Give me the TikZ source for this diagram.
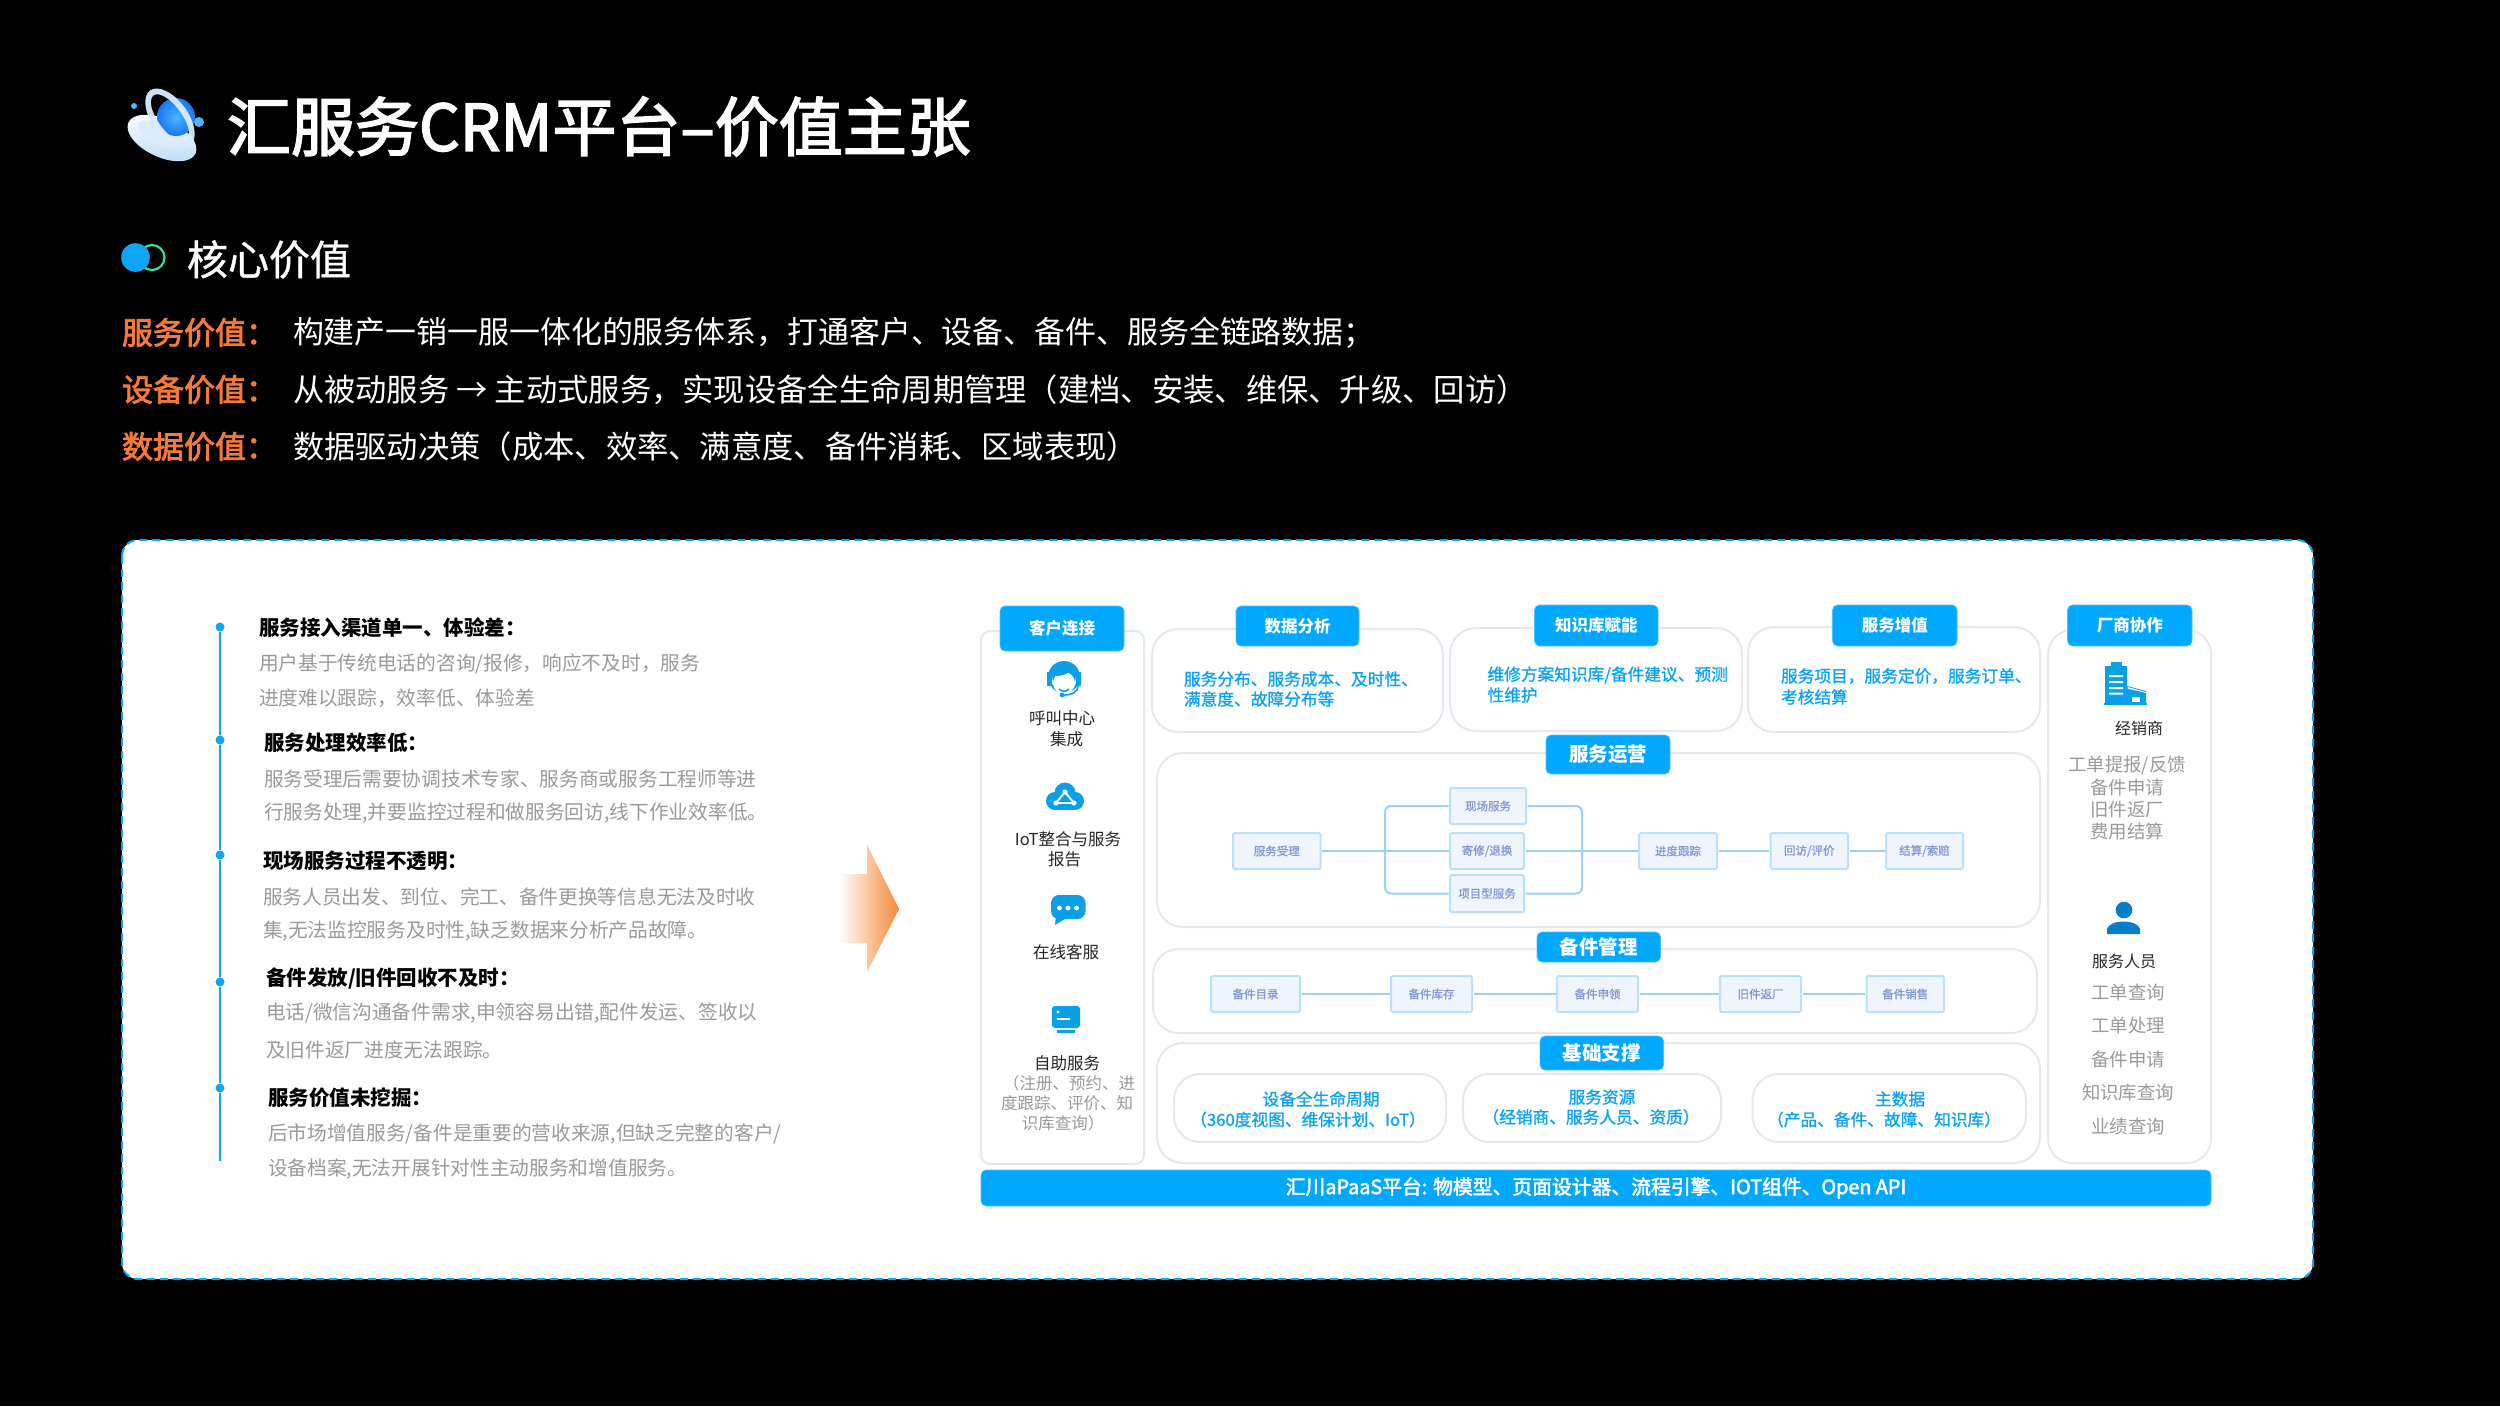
\documentclass[tikz,border=0pt]{standalone}
\usepackage{fontspec}
\setmainfont{Noto Sans CJK SC}
\newfontfamily\medf[FakeBold=2.6]{Noto Sans CJK SC}
\newfontfamily\lightmedf[FakeBold=1]{Noto Sans CJK SC}
\definecolor{tagblue}{HTML}{00A9FF}
\definecolor{iconblue}{HTML}{0AA0E6}
\definecolor{deepblue}{HTML}{0580C8}
\definecolor{panelline}{HTML}{E4E9F0}
\definecolor{cardline}{HTML}{0EA5F5}
\definecolor{paneltxt}{HTML}{0AA2F5}
\definecolor{graytxt}{HTML}{9A9A9A}
\definecolor{orangetxt}{HTML}{F5793A}
\definecolor{flowfill}{HTML}{F0F4FD}
\definecolor{flowline}{HTML}{BCDFFA}
\definecolor{flowtxt}{HTML}{8398D6}
\definecolor{linkline}{HTML}{98D2FA}
\definecolor{arroworange}{HTML}{F48A38}
\definecolor{ringgreen}{HTML}{34E0A1}
\definecolor{sphereinner}{HTML}{4DB4FF}
\definecolor{sphereouter}{HTML}{1677F0}
\definecolor{discpale}{HTML}{BFDCFB}
\definecolor{ringpale}{HTML}{DCEBFD}
\newcommand{\bx}[7]{%
  \pgfmathsetmacro{\bxw}{#5-#3}\pgfmathsetmacro{\bxh}{#6-#4}%
  \pgfmathsetmacro{\bxx}{(#5+#3)/2}\pgfmathsetmacro{\bxy}{(#6+#4)/2}%
  \node[#1,minimum width=\bxw pt,minimum height=\bxh pt] (#2) at (\bxx,\bxy) {#7};}
\tikzset{
  fs/.style={font=\fontsize{#1}{#1}\selectfont},
  fb/.style={font=\fontsize{#1}{#1}\selectfont\bfseries},
  fm/.style={font=\fontsize{#1}{#1}\selectfont\medf},
  fl/.style={font=\fontsize{#1}{#1}\selectfont\lightmedf},
  txt/.style={inner sep=0pt,outer sep=0pt,yshift=-1.5pt},
  panelbig/.style={draw=panelline,line width=2pt,fill=white,rounded corners=26pt,inner sep=0pt,outer sep=0pt},
  panelcol/.style={draw=panelline,line width=2pt,fill=white,rounded corners=9pt,inner sep=0pt,outer sep=0pt},
  panelcolr/.style={draw=panelline,line width=2pt,fill=white,rounded corners=24pt,inner sep=0pt,outer sep=0pt},
  tagbox/.style={fill=tagblue,draw=tagblue!70!white,line width=.6pt,rounded corners=5pt,inner sep=0pt,outer sep=0pt,text=white},
  flowbox/.style={fill=flowfill,draw=flowline,line width=2pt,rounded corners=1.5pt,inner sep=0pt,outer sep=1.5pt,text=flowtxt,fl=11.5},
  link/.style={draw=linkline,line width=2pt},
  head/.style={txt,anchor=west,fb=20.5,text=black},
  bodyt/.style={txt,anchor=west,fs=19.7,text=graytxt},
  ptxt/.style={inner sep=0pt,outer sep=0pt,anchor=west,fl=16.7,text=paneltxt},
  ptxc/.style={inner sep=0pt,outer sep=0pt,fl=16.7,text=paneltxt},
  ctxt/.style={txt,fs=16.5,text=black!85},
  gtxt/.style={txt,fs=16.5,text=graytxt},
  rtxt/.style={txt,fs=18.4,text=graytxt},
  ovt/.style={txt,anchor=west,fm=31,text=orangetxt},
  wvt/.style={txt,anchor=west,fs=31.3,text=white},
}
\begin{document}
\begin{tikzpicture}[x=1pt,y=-1pt]
\useasboundingbox (0,0) rectangle (2500,1406);
\fill[black] (0,0) rectangle (2500,1406);

% title icon
\shade[rotate around={-25:(162,138)},top color=white,bottom color=discpale] (162,138) ellipse [x radius=37,y radius=19];
\fill[ringpale,rotate around={-25:(160,134)}] (160,134) ellipse [x radius=24,y radius=10];
\shade[inner color=sphereinner,outer color=sphereouter] (176,117) circle [radius=19];
\fill[rotate around={-54:(170,118)},ringpale,even odd rule,opacity=.95] (170,118) ellipse [x radius=34,y radius=18] (170,118) ellipse [x radius=28,y radius=12];
\fill[sphereinner] (134,106) circle [radius=3];
\fill[sphereinner] (199,122) circle [radius=5];
\node[txt,anchor=west,fm=64,text=white] (title) at (227,125) {汇服务CRM平台–价值主张};

% core value
\draw[ringgreen,line width=2.2pt] (152,257.5) circle [radius=12.5];
\fill[cardline] (135.5,257.5) circle [radius=14.3];
\node[txt,anchor=west,fl=41,text=white] (core) at (187,258) {核心价值};
\node[ovt] (ov1) at (122,331) {服务价值：};
\node[wvt,fs=30.9] (wv1) at (293,331) {构建产一销一服一体化的服务体系，打通客户、设备、备件、服务全链路数据；};
\node[ovt] (ov2) at (122,388) {设备价值：};
\node[wvt] (wv2) at (293,388) {从被动服务 → 主动式服务，实现设备全生命周期管理（建档、安装、维保、升级、回访）};
\node[ovt] (ov3) at (122,445) {数据价值：};
\node[wvt] (wv3) at (293,445) {数据驱动决策（成本、效率、满意度、备件消耗、区域表现）};

% card
\fill[white,rounded corners=16pt] (122,540) rectangle (2313,1279);
\draw[cardline,line width=2pt,dash pattern=on 8pt off 5pt,rounded corners=16pt] (122,540) rectangle (2313,1279);

% timeline
\coordinate (tlend) at (220,1161);
\node[circle,fill=cardline,minimum size=9pt,inner sep=0pt] (d1) at (220,627) {};
\node[circle,fill=cardline,minimum size=9pt,inner sep=0pt] (d2) at (220,740) {};
\node[circle,fill=cardline,minimum size=9pt,inner sep=0pt] (d3) at (220,855) {};
\node[circle,fill=cardline,minimum size=9pt,inner sep=0pt] (d4) at (220,982) {};
\node[circle,fill=cardline,minimum size=9pt,inner sep=0pt] (d5) at (220,1088) {};
\draw[cardline,line width=2.6pt] (d1) -- (d2) -- (d3) -- (d4) -- (d5) -- (tlend);

\node[head] (h1) at (259,626.5) {服务接入渠道单一、体验差：};
\node[bodyt] (b1a) at (259,662) {用户基于传统电话的咨询/报修，响应不及时，服务};
\node[bodyt] (b1b) at (259,697) {进度难以跟踪，效率低、体验差};
\node[head] (h2) at (264,741) {服务处理效率低：};
\node[bodyt] (b2a) at (264,777) {服务受理后需要协调技术专家、服务商或服务工程师等进};
\node[bodyt] (b2b) at (264,812) {行服务处理,并要监控过程和做服务回访,线下作业效率低。};
\node[head] (h3) at (263,859) {现场服务过程不透明：};
\node[bodyt] (b3a) at (263,895) {服务人员出发、到位、完工、备件更换等信息无法及时收};
\node[bodyt] (b3b) at (263,930) {集,无法监控服务及时性,缺乏数据来分析产品故障。};
\node[head] (h4) at (266,977) {备件发放/旧件回收不及时：};
\node[bodyt] (b4a) at (266,1012) {电话/微信沟通备件需求,申领容易出错,配件发运、签收以};
\node[bodyt] (b4b) at (266,1048) {及旧件返厂进度无法跟踪。};
\node[head] (h5) at (268,1096) {服务价值未挖掘：};
\node[bodyt] (b5a) at (268,1132) {后市场增值服务/备件是重要的营收来源,但缺乏完整的客户/};
\node[bodyt] (b5b) at (268,1168) {设备档案,无法开展针对性主动服务和增值服务。};

% big arrow
\shade[left color=white,right color=arroworange] (839,874) -- (867,874) -- (867,845) -- (899,909) -- (867,972) -- (867,943) -- (839,943) -- cycle;

% panels
\bx{panelcol}{pcust}{981}{631}{1144}{1164}{}
\bx{panelbig}{pdata}{1152}{629}{1443}{732}{}
\bx{panelbig}{pknow}{1450}{628}{1742}{731}{}
\bx{panelbig}{pval}{1748}{627}{2040}{732}{}
\bx{panelcolr}{pvend}{2048}{630}{2211}{1163}{}
\bx{panelbig}{pops}{1157}{753}{2040}{927}{}
\bx{panelbig}{pspare}{1153}{949}{2037}{1033}{}
\bx{panelbig}{pbase}{1157}{1043}{2040}{1163}{}
\bx{panelbig}{pb1}{1174}{1074}{1446}{1142}{}
\bx{panelbig}{pb2}{1463}{1074}{1721}{1142}{}
\bx{panelbig}{pb3}{1752.5}{1074}{2026}{1142}{}

% tags
\bx{tagbox,fb=16.5}{t1}{1000}{606}{1124}{651}{客户连接}
\bx{tagbox,fb=16.5}{t2}{1236}{606}{1359}{646}{数据分析}
\bx{tagbox,fb=16.5}{t3}{1534.5}{605}{1658}{646}{知识库赋能}
\bx{tagbox,fb=16.5}{t4}{1832.5}{605}{1957}{646}{服务增值}
\bx{tagbox,fb=16.5}{t5}{2067.5}{605}{2192}{646}{厂商协作}
\bx{tagbox,fb=19.5}{t6}{1546}{735}{1670}{774}{服务运营}
\bx{tagbox,fb=19.5}{t7}{1537}{932}{1660.5}{962}{备件管理}
\bx{tagbox,fb=19.5}{t8}{1540}{1036}{1663.5}{1070}{基础支撑}
\bx{tagbox,fm=19.8}{bar}{981}{1170}{2211}{1206}{汇川aPaaS平台: 物模型、页面设计器、流程引擎、IOT组件、Open API}

% panel texts
\node[ptxt] (p1a) at (1184,679) {服务分布、服务成本、及时性、};
\node[ptxt] (p1b) at (1184,699) {满意度、故障分布等};
\node[ptxt] (p2a) at (1487.5,675) {维修方案知识库/备件建议、预测};
\node[ptxt] (p2b) at (1487.5,695) {性维护};
\node[ptxt] (p3a) at (1781,676) {服务项目，服务定价，服务订单、};
\node[ptxt] (p3b) at (1781,697) {考核结算};
\node[ptxc] (q1a) at (1321,1099) {设备全生命周期};
\node[ptxc] (q1b) at (1308,1119.5) {（360度视图、维保计划、IoT）};
\node[ptxc] (q2a) at (1602,1097) {服务资源};
\node[ptxc] (q2b) at (1591,1117) {（经销商、服务人员、资质）};
\node[ptxc] (q3a) at (1900,1099) {主数据};
\node[ptxc] (q3b) at (1884,1119.5) {（产品、备件、故障、知识库）};

% flow boxes
\bx{flowbox}{f1}{1233}{833}{1320.5}{869}{服务受理}
\bx{flowbox}{f2}{1450}{788}{1526}{824}{现场服务}
\bx{flowbox}{f3}{1450}{833}{1524}{869}{寄修/退换}
\bx{flowbox}{f4}{1450}{875}{1524}{912}{项目型服务}
\bx{flowbox}{f5}{1639}{833}{1717}{869}{进度跟踪}
\bx{flowbox}{f6}{1770.5}{833}{1848}{869}{回访/评价}
\bx{flowbox}{f7}{1886}{833}{1963}{869}{结算/索赔}
\coordinate (jl) at (1385,851);
\coordinate (jr) at (1582,851);
\draw[link] (f1.east) -- (jl) -- (f3.west);
\draw[link] (f3.east) -- (jr) -- (f5.west);
\draw[link] (f5.east) -- (f6.west);
\draw[link] (f6.east) -- (f7.west);
\draw[link,rounded corners=6pt] (f2.west) -| (jl) |- (f4.west);
\draw[link,rounded corners=6pt] (f2.east) -| (jr) |- (f4.east);

\bx{flowbox}{s1}{1211}{976}{1300}{1012}{备件目录}
\bx{flowbox}{s2}{1391}{976}{1472}{1012}{备件库存}
\bx{flowbox}{s3}{1557}{976}{1638}{1012}{备件申领}
\bx{flowbox}{s4}{1720}{976}{1801}{1012}{旧件返厂}
\bx{flowbox}{s5}{1866.5}{976}{1944}{1012}{备件销售}
\draw[link] (s1) -- (s2);
\draw[link] (s2) -- (s3);
\draw[link] (s3) -- (s4);
\draw[link] (s4) -- (s5);

% left column icons and text
\fill[iconblue] (1064,677) circle [radius=16];
\fill[white] (1064,683) circle [radius=11];
\fill[iconblue] (1056,676) .. controls (1062,676) and (1068,674) .. (1072,670) .. controls (1068,666) and (1058,666) .. (1056,676) -- cycle;
\draw[white,line width=2pt] (1051,676) arc [start angle=180,end angle=360,x radius=13,y radius=-14];
\fill[iconblue] (1047,672) rectangle (1052,686);
\fill[iconblue] (1076,672) rectangle (1081,686);
\draw[iconblue,line width=1.6pt] (1078,686) .. controls (1078,692) and (1072,695) .. (1064,695);
\fill[iconblue] (1062,695) circle [radius=2.4];
\draw[iconblue,line width=1.6pt] (1059,689) .. controls (1062,692) and (1066,692) .. (1069,689);
\node[ctxt] (c1a) at (1062,717) {呼叫中心};
\node[ctxt] (c1b) at (1066.6,738) {集成};

\fill[iconblue] (1065,793) circle [radius=10.5];
\fill[iconblue] (1055,801) circle [radius=9];
\fill[iconblue] (1075,801) circle [radius=9];
\fill[iconblue] (1055,800) rectangle (1075,810);
\draw[white,line width=1.8pt] (1065,792) -- (1056,803) -- (1074,803) -- cycle;
\fill[white] (1065,792) circle [radius=2.6] (1056,803) circle [radius=2.6] (1074,803) circle [radius=2.6];
\node[ctxt] (c2a) at (1068,838) {IoT整合与服务};
\node[ctxt] (c2b) at (1064.6,858) {报告};

\fill[iconblue,rounded corners=8pt] (1051,895) rectangle (1085.5,919);
\fill[iconblue] (1056,915) -- (1068,917) -- (1055,925) -- cycle;
\fill[white] (1059.5,908) circle [radius=2.4] (1068,908) circle [radius=2.4] (1076.5,908) circle [radius=2.4];
\node[ctxt] (c3) at (1066,951) {在线客服};

\fill[iconblue,rounded corners=3pt] (1052,1006) rectangle (1080,1028);
\fill[iconblue] (1057,1030) rectangle (1075,1033);
\fill[white] (1058,1012) circle [radius=1.6];
\fill[white] (1057,1018) rectangle (1070,1020);
\node[ctxt] (c4) at (1067,1062) {自助服务};
\node[gtxt] (c4a) at (1069,1082) {（注册、预约、进};
\node[gtxt] (c4b) at (1067,1102) {度跟踪、评价、知};
\node[gtxt] (c4c) at (1063,1122) {识库查询）};

% right column icons and text
\fill[iconblue] (2111,661.5) rectangle (2121.5,667);
\fill[iconblue] (2105,666) rectangle (2127,704);
\fill[white] (2109,675) rectangle (2123,677) (2109,681) rectangle (2123,683) (2109,687) rectangle (2123,689) (2109,692.5) rectangle (2123,694.5);
\fill[iconblue] (2127,686) -- (2146,691) -- (2146,704) -- (2127,704) -- cycle;
\fill[white] (2127.5,687) -- (2146,692) -- (2146,693) -- (2127.5,688.5) -- cycle;
\fill[white] (2132,697) rectangle (2140,702);
\fill[iconblue] (2103.5,703) rectangle (2146.5,704.8);
\node[txt,fs=16,text=black!85] (r1) at (2139,727) {经销商};
\node[rtxt] (r1a) at (2127,763.5) {工单提报/反馈};
\node[rtxt] (r1b) at (2127,786) {备件申请};
\node[rtxt] (r1c) at (2127,808.5) {旧件返厂};
\node[rtxt] (r1d) at (2127,830) {费用结算};

\fill[deepblue] (2124,910) circle [radius=8.3];
\fill[deepblue] (2107,934) -- (2107,929) .. controls (2108,924) and (2116,921.5) .. (2123.5,921.5) .. controls (2131,921.5) and (2139,924) .. (2140,929) -- (2140,934) -- cycle;
\node[txt,fs=16,text=black!85] (r2) at (2124,960) {服务人员};
\node[rtxt] (r2a) at (2128,991) {工单查询};
\node[rtxt] (r2b) at (2128,1024) {工单处理};
\node[rtxt] (r2c) at (2128,1058) {备件申请};
\node[rtxt] (r2d) at (2128,1091) {知识库查询};
\node[rtxt] (r2e) at (2128,1125) {业绩查询};
\end{tikzpicture}
\end{document}
